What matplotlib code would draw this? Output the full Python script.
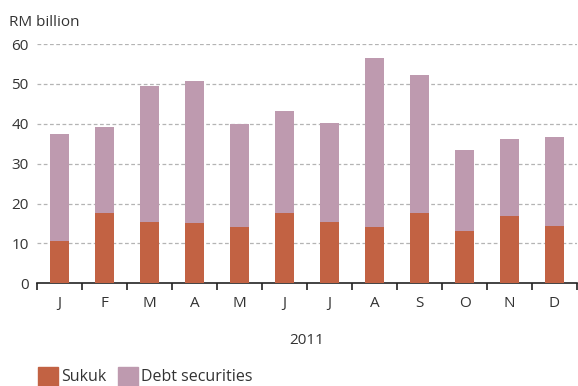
import numpy as np
import matplotlib.pyplot as plt
from matplotlib.patches import Rectangle

plt.rcParams['font.family'] = ['Open Sans', 'DejaVu Sans']

months = ['J', 'F', 'M', 'A', 'M', 'J', 'J', 'A', 'S', 'O', 'N', 'D']
sukuk = [10.6, 17.6, 15.4, 15.1, 14.1, 17.6, 15.4, 14.1, 17.6, 13.1, 16.9, 14.4]
total = [37.4, 39.2, 49.5, 50.7, 39.9, 43.2, 40.2, 56.5, 52.2, 33.4, 36.2, 36.7]
debt = [t - s for t, s in zip(total, sukuk)]
yticks = [0, 10, 20, 30, 40, 50, 60]

c_sukuk = '#C26243'
c_debt = '#BE9AAF'
c_text = '#333333'
fs = 11

fig = plt.figure(figsize=(5.78, 3.86), dpi=100)
ax = fig.add_axes([37 / 578, 1 - 283.3 / 386, 540 / 578, (283.3 - 44) / 386])

x = np.arange(len(months))
ax.bar(x, sukuk, width=0.42, color=c_sukuk, zorder=3)
ax.bar(x, debt, width=0.42, bottom=sukuk, color=c_debt, zorder=3)

ax.set_xlim(-0.5, len(months) - 0.5)
ax.set_ylim(0, 60)
ax.set_yticks(yticks)
ax.set_yticklabels([str(v) for v in yticks], fontsize=fs, color=c_text)
for v in yticks[1:]:
    ax.axhline(v, color='#b4b4b4', lw=0.9, ls=(0, (3, 2)), zorder=1)

ax.set_xticks(x)
ax.set_xticklabels(months, fontsize=fs, color=c_text)
ax.set_xticks(np.arange(-0.5, len(months), 1), minor=True)
ax.tick_params(axis='x', which='major', length=0, pad=9)
ax.tick_params(axis='x', which='minor', length=5, width=1.2, color='#222222')
ax.tick_params(axis='y', length=0, pad=6)

for s in ['top', 'right', 'left']:
    ax.spines[s].set_visible(False)
ax.spines['bottom'].set_linewidth(1.2)
ax.spines['bottom'].set_color('#222222')

fig.text(9 / 578, 1 - 22 / 386, 'RM billion', fontsize=fs, color=c_text, va='center')
fig.text(307 / 578, 1 - 340 / 386, '2011', fontsize=fs, color=c_text, ha='center', va='center')

# legend
for px, label, col in [(38, 'Sukuk', c_sukuk), (118, 'Debt securities', c_debt)]:
    fig.patches.append(Rectangle((px / 578, 0), 20 / 578, 19 / 386,
                                 transform=fig.transFigure, color=col))
    fig.text((px + 23) / 578, 1 - 377 / 386, label, fontsize=11.5, color=c_text, va='center')

fig.savefig('out.png', dpi=100)
